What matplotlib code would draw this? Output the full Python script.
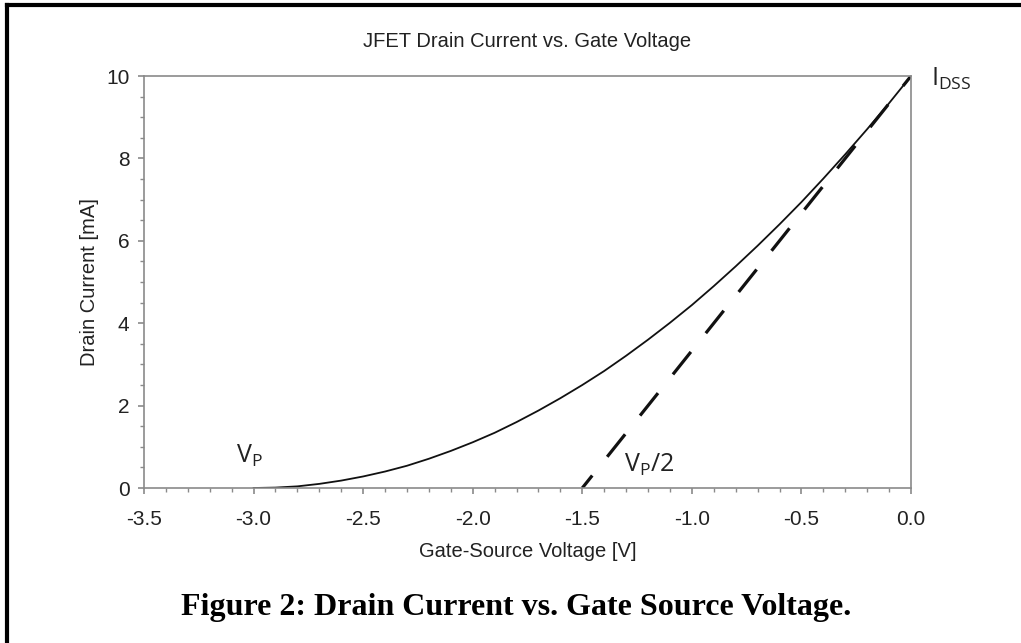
import matplotlib.pyplot as plt
from matplotlib.lines import Line2D
from matplotlib.ticker import MultipleLocator

# Gate-source voltage [V] and drain current [mA]
vgs = [-3.0, -2.9, -2.8, -2.7, -2.6, -2.5, -2.4, -2.3, -2.2, -2.1, -2.0,
       -1.9, -1.8, -1.7, -1.6, -1.5, -1.4, -1.3, -1.2, -1.1, -1.0,
       -0.9, -0.8, -0.7, -0.6, -0.5, -0.4, -0.3, -0.2, -0.1, 0.0]
id_ma = [0.0, 0.01, 0.04, 0.10, 0.18, 0.28, 0.40, 0.54, 0.71, 0.90, 1.11,
         1.34, 1.60, 1.88, 2.18, 2.50, 2.84, 3.21, 3.60, 4.01, 4.44,
         4.90, 5.38, 5.88, 6.40, 6.94, 7.51, 8.10, 8.71, 9.34, 10.0]

# tangent line at IDSS, crossing zero at Vp/2
tangent_v = [-1.5, 0.0]
tangent_i = [0.0, 10.0]

xticks = [-3.5, -3.0, -2.5, -2.0, -1.5, -1.0, -0.5, 0.0]
yticks = [0, 2, 4, 6, 8, 10]

GRAY = "#8a8a8a"
TEXT = "#222222"

fig = plt.figure(figsize=(10.21, 6.43), dpi=100)
W, H = 1021, 643
ax = fig.add_axes([144 / W, 1 - 488 / H, (911 - 144) / W, (488 - 76) / H])

ax.plot(vgs, id_ma, color="#111111", linewidth=1.3)
ax.plot(tangent_v, tangent_i, color="#111111", linewidth=2.3,
        linestyle=(4, (9, 7.5)), dash_capstyle="butt")

ax.set_xlim(-3.5, 0.0)
ax.set_ylim(0, 10)
ax.set_xticks(xticks)
ax.set_xticklabels([f"{t:.1f}" for t in xticks])
ax.set_yticks(yticks)
ax.xaxis.set_minor_locator(MultipleLocator(0.1))
ax.yaxis.set_minor_locator(MultipleLocator(0.5))

for s in ax.spines.values():
    s.set_color(GRAY)
    s.set_linewidth(1.2)
ax.tick_params(which="both", direction="out", colors=GRAY, labelcolor=TEXT,
               labelsize=15, top=False, right=False)
ax.tick_params(which="major", length=4.5, width=1.2)
ax.tick_params(which="minor", length=3, width=1.0)
ax.tick_params(axis="x", which="major", pad=11)
ax.tick_params(axis="y", which="major", pad=6)

font = "Liberation Sans"
for lab in ax.get_xticklabels() + ax.get_yticklabels():
    lab.set_family(font)

ax.set_title("JFET Drain Current vs. Gate Voltage", family=font, fontsize=14.5,
             color=TEXT, pad=21)
ax.set_xlabel("Gate-Source Voltage [V]", family=font, fontsize=14.5, color=TEXT,
              labelpad=10)
ax.set_ylabel("Drain Current [mA]", family=font, fontsize=14.5, color=TEXT,
              labelpad=5)

lab_kw = dict(family="Open Sans", fontsize=18, color=TEXT)
ax.text(-3.02, 0.47, r"$\mathregular{V_P}$", ha="center", va="bottom", **lab_kw)
ax.text(-1.31, 0.25, r"$\mathregular{V_P/2}$", ha="left", va="bottom", **lab_kw)
ax.text(0.09, 9.6, r"$\mathregular{I_{DSS}}$", ha="left", va="bottom",
        clip_on=False, **lab_kw)

fig.text(516 / W, 1 - 615 / H, "Figure 2: Drain Current vs. Gate Source Voltage.",
         family="Liberation Serif", weight="bold", fontsize=23, ha="center",
         va="baseline", color="black")

# frame edges of the original figure box (top and left)
fig.add_artist(Line2D([7 / W, 1.0], [1 - 5 / H, 1 - 5 / H], color="black",
                      linewidth=3, transform=fig.transFigure))
fig.add_artist(Line2D([7 / W, 7 / W], [0.0, 1 - 5 / H], color="black",
                      linewidth=3, transform=fig.transFigure))

fig.savefig("out.png", dpi=100)
